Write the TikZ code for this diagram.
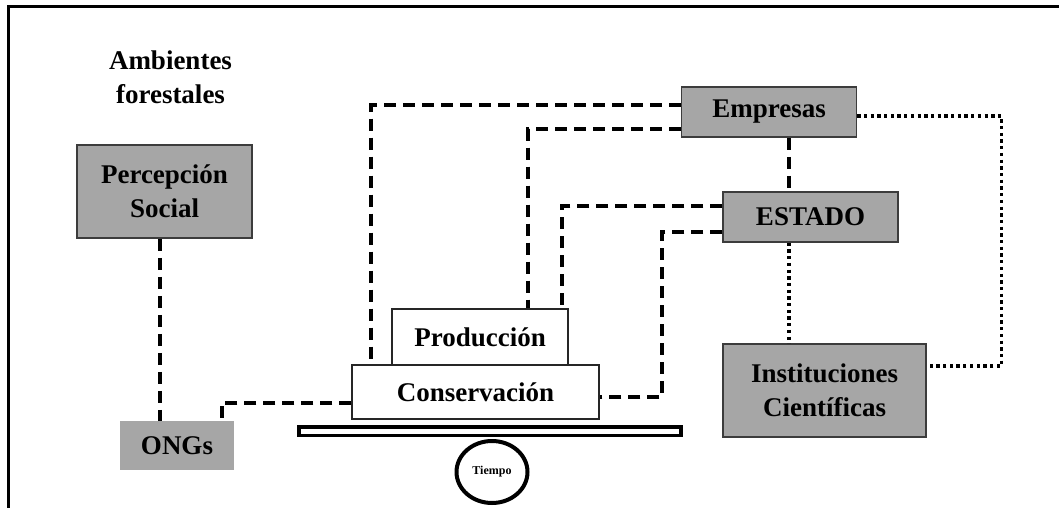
\documentclass[tikz,border=0pt]{standalone}
\usepackage{fontspec}
\setmainfont{Liberation Serif}
\usetikzlibrary{shapes.geometric}
\definecolor{boxgray}{RGB}{166,166,166}
\definecolor{edgegray}{RGB}{60,60,60}
\begin{document}
\begin{tikzpicture}[x=1pt,y=-1pt,
  every node/.style={font=\bfseries\fontsize{27}{34}\selectfont, inner sep=0pt, align=center},
  graybox/.style={rectangle, fill=boxgray, draw=edgegray, line width=1.5pt},
  plainbox/.style={rectangle, fill=white, draw=black!85, line width=1.3pt},
  dashline/.style={line width=4pt, dash pattern=on 12pt off 7pt},
  dotline/.style={line width=3.5pt, dash pattern=on 3.3pt off 3.4pt}]
\useasboundingbox (0,0) rectangle (1059,508);
% frame
\draw[line width=3pt] (8,508) -- (8,6.5) -- (1059,6.5);
% nodes
\node (amb) at (170.5,77.5) {Ambientes\\forestales};
\node[graybox, minimum width=175pt, minimum height=93pt] (perc) at (164.5,191.5) {Percepción\\Social};
\node[rectangle, fill=boxgray, minimum width=114pt, minimum height=49pt] (ongs) at (177,445.5) {ONGs};
\node[graybox, minimum width=175pt, minimum height=50pt] (emp) at (769,112) {Empresas};
\node[graybox, minimum width=175pt, minimum height=50pt] (est) at (810.5,217) {ESTADO};
\node[graybox, minimum width=203pt, minimum height=93pt] (inst) at (824.5,390.5) {Instituciones\\Científicas};
\node[plainbox, minimum width=176pt, minimum height=56pt] (prod) at (480,337) {Producción};
\node[plainbox, minimum width=247pt, minimum height=54pt] (cons) at (475.5,392) {Conservación};
\node[rectangle, draw=black, line width=3.6pt, fill=white, minimum width=382pt, minimum height=8.6pt] (bar) at (490,431) {};
\node[ellipse, draw=black, line width=4pt, minimum width=71pt, minimum height=62pt, font=\bfseries\fontsize{12}{14}\selectfont] (tiempo) at (492,472) {Tiempo};
% dashed connectors
\draw[dashline] ([xshift=-4.5pt]perc.south) -- ([xshift=-4.5pt]perc.south |- ongs.north);
\draw[dashline] ([yshift=-11pt]cons.west) -| ([xshift=102pt]ongs.north west);
\draw[dashline] ([yshift=7pt]emp.west) -| ([xshift=20pt]cons.north west);
\draw[dashline] ([yshift=-17pt]emp.west) -| ([xshift=137pt]prod.north west);
\draw[dashline] ([yshift=11pt]est.west) -| ([xshift=171pt]prod.north west);
\draw[dashline] ([yshift=-15pt]est.west) -- ++(-60,0) |- ([yshift=-5pt]cons.east);
\draw[dashline] ([xshift=20pt]emp.south) -- ([xshift=20pt]emp.south |- est.north);
% dotted connectors
\draw[dotline] ([xshift=-21.5pt]est.south) -- ([xshift=-21.5pt]est.south |- inst.north);
\draw[dotline] ([yshift=-4pt]emp.east) -- ++(144,0) |- ([yshift=24.5pt]inst.east);
\end{tikzpicture}
\end{document}
